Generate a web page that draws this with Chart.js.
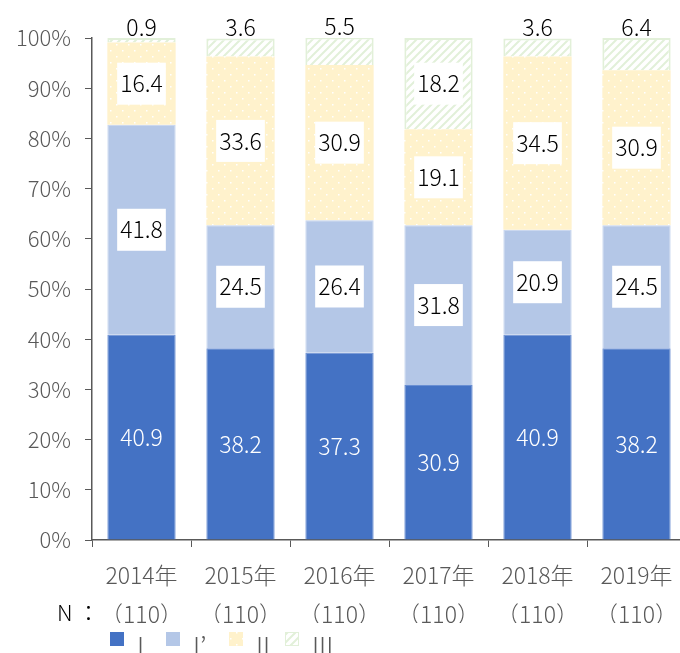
<!DOCTYPE html>
<html>
<head>
<meta charset="utf-8">
<script src="https://cdn.jsdelivr.net/npm/chart.js@4.4.0/dist/chart.umd.min.js"></script>
<style>
html, body { margin: 0; padding: 0; background: #fff; overflow: hidden; }
#wrap { width: 690px; height: 653px; }
</style>
</head>
<body>
<div id="wrap"><canvas id="c"></canvas></div>
<script>
var years = ["2014年", "2015年", "2016年", "2017年", "2018年", "2019年"];
var counts = ["（110）", "（110）", "（110）", "（110）", "（110）", "（110）"];
var seriesNames = ["I", "I’", "II", "III"];
var valsI = [40.9, 38.2, 37.3, 30.9, 40.9, 38.2];
var valsI2 = [41.8, 24.5, 26.4, 31.8, 20.9, 24.5];
var valsII = [16.4, 33.6, 30.9, 19.1, 34.5, 30.9];
var valsIII = [0.9, 3.6, 5.5, 18.2, 3.6, 6.4];
var yTicks = [0, 10, 20, 30, 40, 50, 60, 70, 80, 90, 100];

var FONT = "'Noto Sans CJK JP', 'Noto Sans', sans-serif";
var GREY = "#595959";

function dotPattern() {
    var c = document.createElement("canvas");
    c.width = 12; c.height = 12;
    var x = c.getContext("2d");
    x.fillStyle = "#FFF2CC";
    x.fillRect(0, 0, 12, 12);
    x.fillStyle = "#ffffff";
    x.fillRect(2, 2, 1.5, 1.5);
    x.fillRect(8, 8, 1.5, 1.5);
    return x.createPattern(c, "repeat");
}

function stripePattern() {
    var c = document.createElement("canvas");
    c.width = 8; c.height = 8;
    var x = c.getContext("2d");
    x.fillStyle = "#ffffff";
    x.fillRect(0, 0, 8, 8);
    x.strokeStyle = "#E2F0D9";
    x.lineWidth = 2;
    x.beginPath();
    x.moveTo(0, 8); x.lineTo(8, 0);
    x.moveTo(-2, 2); x.lineTo(2, -2);
    x.moveTo(6, 10); x.lineTo(10, 6);
    x.stroke();
    return x.createPattern(c, "repeat");
}

// value labels inside / above the segments
var barLabels = {
    id: "barLabels",
    afterDatasetsDraw: function(chart) {
        var ctx = chart.ctx;
        ctx.save();
        ctx.font = "300 23px " + FONT;
        ctx.textAlign = "center";
        ctx.textBaseline = "middle";
        chart.data.datasets.forEach(function(ds, i) {
            var meta = chart.getDatasetMeta(i);
            meta.data.forEach(function(el, j) {
                var v = ds.data[j];
                var t = v.toFixed(1);
                if (i == 3 && v < 10) {
                    ctx.fillStyle = "#000";
                    ctx.fillText(t, el.x, el.y - 11);
                    return;
                }
                var y = (el.y + el.base) / 2;
                if (i == 0) {
                    ctx.fillStyle = "#fff";
                    ctx.fillText(t, el.x, y);
                    return;
                }
                var w = ctx.measureText(t).width + 6;
                ctx.fillStyle = "#fff";
                ctx.fillRect(el.x - w / 2, y - 21, w, 42);
                ctx.fillStyle = "#000";
                ctx.fillText(t, el.x, y);
            });
        });
        ctx.restore();
    }
};

// "N：" text and bottom legend
var extras = {
    id: "extras",
    afterDraw: function(chart) {
        var ctx = chart.ctx;
        ctx.save();
        ctx.fillStyle = "#000";
        ctx.font = "300 22px " + FONT;
        ctx.textBaseline = "middle";
        ctx.textAlign = "left";
        ctx.fillText("N ：", 57, 613);

        var xs = [110, 166, 229, 285];
        chart.data.datasets.forEach(function(ds, i) {
            ctx.fillStyle = ds.backgroundColor;
            ctx.fillRect(xs[i], 632, 14, 14);
            if (i == 3) {
                ctx.strokeStyle = ds.borderColor;
                ctx.lineWidth = 1;
                ctx.strokeRect(xs[i] + 0.5, 632.5, 13, 13);
            }
            ctx.fillStyle = GREY;
            ctx.font = "300 26px " + FONT;
            ctx.fillText(ds.label, xs[i] + 27, 646);
        });
        ctx.restore();
    }
};

new Chart(document.getElementById("c"), {
    type: "bar",
    data: {
        labels: years.map(function(y, i) { return [y, counts[i]]; }),
        datasets: [
            { label: seriesNames[0], data: valsI, backgroundColor: "#4472C4", borderColor: "#6A8FD3", borderWidth: 1 },
            { label: seriesNames[1], data: valsI2, backgroundColor: "#B4C7E7", borderColor: "#C5D4EE", borderWidth: 1 },
            { label: seriesNames[2], data: valsII, backgroundColor: dotPattern(), borderColor: "#FFF2CC", borderWidth: 0 },
            { label: seriesNames[3], data: valsIII, backgroundColor: stripePattern(), borderColor: "#E2F0D9", borderWidth: 2 }
        ]
    },
    options: {
        responsive: true,
        maintainAspectRatio: false,
        animation: false,
        layout: { padding: { top: 38, right: 4, bottom: 30, left: 0 } },
        datasets: { bar: { barPercentage: 0.69, categoryPercentage: 1 } },
        plugins: { legend: { display: false }, tooltip: { enabled: false } },
        scales: {
            x: {
                stacked: true,
                afterFit: function(s) { s.height = 83; },
                grid: { offset: true, drawOnChartArea: false, color: GREY, tickLength: 7 },
                border: { color: GREY, width: 1.5 },
                ticks: { color: GREY, padding: 9, font: { family: FONT, size: 23, weight: 300, lineHeight: 1.7 } }
            },
            y: {
                stacked: true,
                min: 0,
                max: 100,
                afterFit: function(s) { s.width = 92; },
                afterBuildTicks: function(s) { s.ticks = yTicks.map(function(v) { return { value: v }; }); },
                grid: { drawOnChartArea: false, color: GREY, tickLength: 7 },
                border: { color: GREY, width: 1.5 },
                ticks: {
                    color: GREY,
                    padding: 14,
                    font: { family: FONT, size: 22, weight: 300 },
                    callback: function(v) { return v + "%"; }
                }
            }
        }
    },
    plugins: [barLabels, extras]
});
</script>
</body>
</html>
